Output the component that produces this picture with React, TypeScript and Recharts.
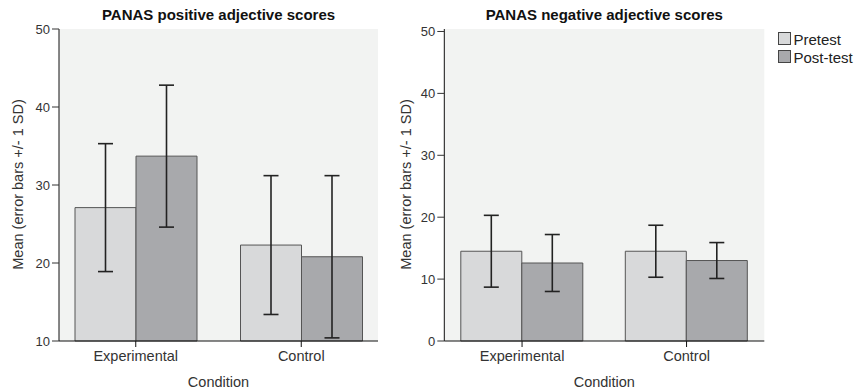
import React from 'react';
import { BarChart, Bar, XAxis, YAxis, ErrorBar, CartesianGrid } from 'recharts';

// Conditions and group means / SDs
const conditions = ['Experimental', 'Control'];

const positivePre = [27.1, 22.3];
const positivePost = [33.7, 20.8];
const positivePreSd = [8.2, 8.9];
const positivePostSd = [9.1, 10.4];

const negativePre = [14.5, 14.5];
const negativePost = [12.6, 13.0];
const negativePreSd = [5.8, 4.2];
const negativePostSd = [4.6, 2.9];

const positiveTicks = [10, 20, 30, 40, 50];
const negativeTicks = [0, 10, 20, 30, 40, 50];

const seriesNames = ['Pretest', 'Post-test'];

const PRE_FILL = '#d8d9da';
const POST_FILL = '#a8a9ac';
const PLOT_BG = '#f2f3f2';
const FONT = '"Liberation Sans", Arial, sans-serif';

function buildRows(pre: number[], post: number[], preSd: number[], postSd: number[]) {
  return conditions.map((condition, i) => ({
    condition,
    pre: pre[i],
    post: post[i],
    preSd: preSd[i],
    postSd: postSd[i],
  }));
}

interface PanelProps {
  data: ReturnType<typeof buildRows>;
  width: number;
  margin: { top: number; right: number; bottom: number; left: number };
  domain: [number, number];
  ticks: number[];
  pad: number;
}

function Panel({ data, width, margin, domain, ticks, pad }: PanelProps) {
  return (
    <BarChart width={width} height={392} data={data} margin={margin} barGap={0}>
      <CartesianGrid horizontal={false} vertical={false} fill={PLOT_BG} />
      <XAxis
        dataKey="condition"
        height={30}
        padding={{ left: pad, right: pad }}
        tickSize={6}
        tickMargin={4}
        axisLine={{ stroke: '#111' }}
        tickLine={{ stroke: '#111' }}
        tick={{ fontSize: 14.5, fill: '#333', fontFamily: FONT }}
      />
      <XAxis
        xAxisId="top"
        dataKey="condition"
        orientation="top"
        height={0}
        tick={false}
        tickLine={false}
        axisLine={{ stroke: '#333' }}
      />
      <YAxis
        type="number"
        domain={domain}
        ticks={ticks}
        width={40}
        tickSize={7}
        tickMargin={2}
        axisLine={{ stroke: '#111' }}
        tickLine={{ stroke: '#333' }}
        tick={{ fontSize: 13, fill: '#333', fontFamily: FONT }}
      />
      <YAxis
        yAxisId="right"
        orientation="right"
        type="number"
        domain={domain}
        width={0}
        tick={false}
        tickLine={false}
        axisLine={{ stroke: '#555', strokeWidth: 2 }}
      />
      <Bar dataKey="pre" name={seriesNames[0]} fill={PRE_FILL} stroke="#555" barSize={61} isAnimationActive={false}>
        <ErrorBar dataKey="preSd" width={7.5} stroke="#222" strokeWidth={1.6} />
      </Bar>
      <Bar dataKey="post" name={seriesNames[1]} fill={POST_FILL} stroke="#555" barSize={61} isAnimationActive={false}>
        <ErrorBar dataKey="postSd" width={7.5} stroke="#222" strokeWidth={1.6} />
      </Bar>
    </BarChart>
  );
}

const textBase: React.CSSProperties = {
  position: 'absolute',
  fontFamily: FONT,
  color: '#222',
  whiteSpace: 'nowrap',
};

function Title({ text, cx }: { text: string; cx: number }) {
  return (
    <div style={{ ...textBase, left: cx - 150, width: 300, top: 7.3, textAlign: 'center', fontWeight: 'bold', fontSize: 15, lineHeight: '15px', color: '#111' }}>
      {text}
    </div>
  );
}

function XLabel({ cx }: { cx: number }) {
  return (
    <div style={{ ...textBase, left: cx - 60, width: 120, top: 375, textAlign: 'center', fontSize: 14.5, lineHeight: '15px', color: '#333' }}>
      Condition
    </div>
  );
}

function YLabel({ cx }: { cx: number }) {
  const w = 200;
  return (
    <div
      style={{
        ...textBase,
        left: cx - w / 2,
        top: 184.5 - 7.5,
        width: w,
        height: 15,
        textAlign: 'center',
        fontSize: 14.5,
        lineHeight: '15px',
        color: '#333',
        transform: 'rotate(-90deg)',
      }}
    >
      Mean (error bars +/- 1 SD)
    </div>
  );
}

export default function App() {
  const positiveRows = buildRows(positivePre, positivePost, positivePreSd, positivePostSd);
  const negativeRows = buildRows(negativePre, negativePost, negativePreSd, negativePostSd);
  const fills = [PRE_FILL, POST_FILL];

  return (
    <div style={{ position: 'absolute', left: 0, top: 0, width: 855, height: 392, background: '#fff', overflow: 'hidden' }}>
      <div style={{ position: 'absolute', left: 0, top: 0 }}>
        <Panel
          data={positiveRows}
          width={400}
          margin={{ top: 29, right: 22, bottom: 21, left: 19 }}
          domain={[10, 50]}
          ticks={positiveTicks}
          pad={-6}
        />
      </div>
      <div style={{ position: 'absolute', left: 400, top: 0 }}>
        <Panel
          data={negativeRows}
          width={455}
          margin={{ top: 29, right: 90.7, bottom: 21, left: 4.3 }}
          domain={[0, 50.4]}
          ticks={negativeTicks}
          pad={-4.5}
        />
      </div>

      <Title text="PANAS positive adjective scores" cx={218.5} />
      <Title text="PANAS negative adjective scores" cx={604.3} />
      <XLabel cx={218.5} />
      <XLabel cx={604.3} />
      <YLabel cx={17.7} />
      <YLabel cx={406} />

      {seriesNames.map((name, i) => (
        <div key={name} style={{ position: 'absolute', left: 778, top: 30.5 + i * 18.5, height: 18.5, display: 'flex', alignItems: 'flex-start' }}>
          <div style={{ width: 13, height: 13, marginTop: 1.2, background: fills[i], border: '1px solid #444', boxSizing: 'border-box', flex: 'none' }} />
          <span style={{ fontFamily: FONT, fontSize: 15, lineHeight: '18.5px', color: '#222', marginLeft: 2.5, whiteSpace: 'nowrap' }}>{name}</span>
        </div>
      ))}
    </div>
  );
}
